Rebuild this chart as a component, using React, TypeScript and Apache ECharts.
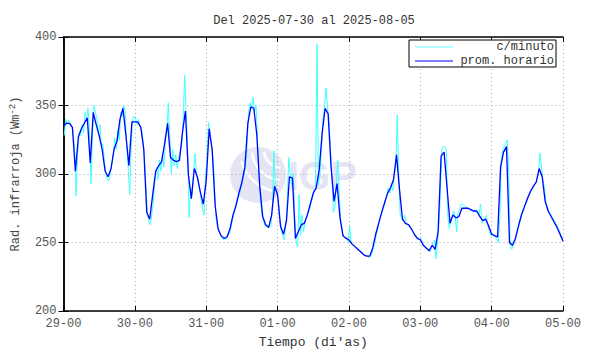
import React, { useEffect, useRef } from "react";
import * as echarts from "echarts";

const TITLE = "Del 2025-07-30 al 2025-08-05";
const DAY_LABELS = ["29-00", "30-00", "31-00", "01-00", "02-00", "03-00", "04-00", "05-00"];
const Y_MIN = 200;
const Y_MAX = 400;
const Y_STEP = 50;

// hourly mean (prom. horario), one value per hour
const hourly29 = [335, 337, 337, 334, 302, 327, 333, 337, 341, 308, 345, 336, 328, 318, 302, 298, 304, 318, 324, 340, 348, 328, 306, 338];
const hourly30 = [338, 338, 334, 318, 272, 267, 285, 302, 306, 309, 322, 337, 312, 310, 309, 310, 330, 346, 300, 282, 304, 298, 287, 278];
const hourly31 = [295, 333, 318, 277, 260, 255, 253, 254, 260, 270, 277, 286, 294, 305, 337, 349, 348, 329, 291, 269, 263, 261, 270, 291];
const hourly01 = [285, 262, 256, 266, 298, 297, 253, 258, 263, 264, 270, 278, 286, 290, 303, 330, 348, 344, 305, 280, 293, 268, 255, 253];
const hourly02 = [252, 249, 247, 245, 243, 241, 240, 240, 246, 256, 264, 272, 279, 286, 290, 296, 314, 289, 267, 264, 263, 260, 256, 253];
const hourly03 = [252, 248, 246, 244, 248, 245, 258, 313, 316, 290, 264, 270, 268, 269, 275, 275, 275, 274, 273, 273, 269, 266, 267, 262];
const hourly04 = [256, 255, 254, 305, 316, 320, 250, 248, 253, 262, 270, 276, 282, 287, 291, 294, 304, 298, 280, 273, 269, 265, 261, 256];
const hourlyEnd = [251];

// per-minute series (c/minuto), sampled every half hour
const minute29 = [328, 340, 336, 339, 338, 335, 330, 318, 284, 315, 330, 328, 336, 330, 345, 340, 348, 330, 293, 328, 350, 345, 340, 328, 336, 320, 322, 310, 300, 296, 295, 300, 308, 314, 326, 318, 332, 325, 345, 342, 350, 346, 320, 305, 285, 318, 340, 342];
const minute30 = [340, 336, 340, 334, 332, 325, 310, 290, 270, 265, 263, 272, 280, 295, 305, 296, 310, 302, 315, 305, 325, 330, 352, 328, 300, 318, 306, 314, 304, 312, 316, 320, 340, 372, 345, 320, 268, 290, 285, 300, 315, 300, 295, 290, 282, 275, 270, 300];
const minute31 = [310, 338, 330, 320, 312, 295, 268, 262, 258, 256, 254, 252, 253, 252, 255, 256, 260, 266, 270, 274, 278, 282, 286, 290, 295, 300, 305, 320, 345, 352, 348, 356, 345, 350, 325, 300, 280, 270, 266, 262, 262, 261, 261, 262, 275, 317, 290, 285];
const minute01 = [280, 265, 258, 255, 252, 262, 280, 312, 300, 292, 300, 270, 250, 247, 285, 255, 270, 258, 265, 268, 272, 274, 279, 282, 288, 289, 395, 292, 300, 318, 340, 348, 363, 350, 340, 320, 300, 272, 275, 292, 310, 285, 265, 258, 254, 253, 254, 250];
const minute02 = [262, 250, 249, 248, 247, 246, 245, 244, 243, 242, 241, 240, 240, 239, 240, 242, 246, 250, 256, 260, 266, 269, 273, 276, 281, 284, 290, 286, 292, 288, 300, 304, 343, 300, 270, 268, 266, 270, 264, 263, 263, 261, 259, 257, 256, 254, 253, 252];
const minute03 = [253, 250, 248, 247, 246, 245, 243, 246, 250, 252, 238, 248, 262, 285, 318, 320, 320, 318, 270, 260, 266, 270, 273, 268, 258, 272, 274, 278, 278, 277, 276, 275, 275, 274, 273, 272, 274, 272, 272, 270, 278, 264, 266, 268, 270, 262, 258, 255];
const minute04 = [257, 255, 255, 252, 250, 268, 310, 318, 320, 322, 325, 300, 248, 245, 248, 250, 255, 258, 263, 266, 271, 273, 277, 279, 283, 285, 288, 289, 292, 293, 296, 300, 315, 305, 296, 290, 280, 276, 273, 271, 269, 267, 265, 263, 261, 259, 256, 253];

const hourly = [...hourly29, ...hourly30, ...hourly31, ...hourly01, ...hourly02, ...hourly03, ...hourly04, ...hourlyEnd];
const minute = [...minute29, ...minute30, ...minute31, ...minute01, ...minute02, ...minute03, ...minute04];

const MONO = "'Liberation Mono', 'DejaVu Sans Mono', monospace";

export default function App() {
  const ref = useRef<HTMLDivElement>(null);

  useEffect(() => {
    if (!ref.current) return;
    const chart = echarts.init(ref.current, undefined, { renderer: "svg" });

    const blueData = hourly.map((v, i) => [i, v]);
    const cyanData = minute.map((v, i) => [0.25 + 0.5 * i, v]);
    const xMax = (DAY_LABELS.length - 1) * 24;

    const axisLine = { show: true, lineStyle: { color: "#000", width: 1.5 } };
    const tick = { show: true, inside: true, length: 5, lineStyle: { color: "#000", width: 1 } };
    const split = { show: true, lineStyle: { color: "#aaa", type: [1, 3] as any, width: 1 } };
    const labelStyle = { fontFamily: MONO, fontSize: 12, color: "#555" };

    chart.setOption({
      animation: false,
      backgroundColor: "#fff",
      title: {
        text: TITLE,
        left: 309,
        textAlign: "center",
        top: 10,
        textStyle: { fontFamily: MONO, fontSize: 12, fontWeight: "normal", color: "#333" },
      },
      grid: { left: 55, right: 27, top: 37, bottom: 40, containLabel: false },
      xAxis: [
        {
          type: "value",
          min: 0,
          max: xMax,
          interval: 24,
          axisLine,
          axisTick: tick,
          splitLine: split,
          axisLabel: {
            ...labelStyle,
            margin: 7,
            showMinLabel: true,
            showMaxLabel: true,
            formatter: (v: number) => DAY_LABELS[Math.round(v / 24)] ?? "",
          },
          name: "Tiempo (di'as)",
          nameLocation: "middle",
          nameGap: 25,
          nameTextStyle: { fontFamily: MONO, fontSize: 13, color: "#333" },
        },
        {
          type: "value",
          position: "top",
          min: 0,
          max: xMax,
          interval: 24,
          axisLine,
          axisTick: tick,
          splitLine: { show: false },
          axisLabel: { show: false },
        },
      ],
      yAxis: [
        {
          type: "value",
          min: Y_MIN,
          max: Y_MAX,
          interval: Y_STEP,
          axisLine,
          axisTick: tick,
          splitLine: split,
          axisLabel: { ...labelStyle, margin: 7 },
          name: "Rad. infrarroja (Wm{sup|-2})",
          nameLocation: "middle",
          nameGap: 38,
          nameRotate: 90,
          nameTextStyle: {
            fontFamily: MONO,
            fontSize: 12,
            color: "#444",
            lineHeight: 16,
            rich: {
              sup: { fontFamily: MONO, fontSize: 9, color: "#444", lineHeight: 9, verticalAlign: "top" },
            },
          },
        },
        {
          type: "value",
          position: "right",
          min: Y_MIN,
          max: Y_MAX,
          interval: Y_STEP,
          axisLine,
          axisTick: tick,
          splitLine: { show: false },
          axisLabel: { show: false },
        },
      ],
      graphic: [
        // watermark
        { type: "circle", z: -10, silent: true, shape: { cx: 258, cy: 175, r: 28 }, style: { fill: "#e4e4f5" } },
        { type: "arc", z: -9, silent: true, shape: { cx: 282, cy: 150, r: 18, startAngle: (95 * Math.PI) / 180, endAngle: (175 * Math.PI) / 180 }, style: { stroke: "#fff", lineWidth: 2.5, fill: "none" } },
        { type: "arc", z: -9, silent: true, shape: { cx: 282, cy: 150, r: 30, startAngle: (95 * Math.PI) / 180, endAngle: (175 * Math.PI) / 180 }, style: { stroke: "#fff", lineWidth: 2.5, fill: "none" } },
        { type: "arc", z: -9, silent: true, shape: { cx: 282, cy: 150, r: 42, startAngle: (102 * Math.PI) / 180, endAngle: (165 * Math.PI) / 180 }, style: { stroke: "#fff", lineWidth: 2.5, fill: "none" } },
        {
          type: "text",
          z: -10,
          silent: true,
          x: 288,
          y: 176,
          style: { text: "IGP", fontFamily: "'Liberation Sans', Arial, sans-serif", fontSize: 40, fontWeight: "bold", fill: "#e4e4f5", verticalAlign: "middle" },
        },
        // legend box
        { type: "rect", z: 100, shape: { x: 409, y: 40, width: 147, height: 27 }, style: { fill: "#fff", stroke: "#000", lineWidth: 1 } },
        { type: "line", z: 101, shape: { x1: 415, y1: 47, x2: 453, y2: 47 }, style: { stroke: "#66ffff", lineWidth: 1 } },
        { type: "line", z: 101, shape: { x1: 415, y1: 61, x2: 453, y2: 61 }, style: { stroke: "#0000ff", lineWidth: 1.2 } },
        { type: "text", z: 101, x: 554, y: 47, style: { text: "c/minuto", fontFamily: MONO, fontSize: 12, fill: "#333", align: "right", verticalAlign: "middle" } },
        { type: "text", z: 101, x: 554, y: 61, style: { text: "prom. horario", fontFamily: MONO, fontSize: 12, fill: "#333", align: "right", verticalAlign: "middle" } },
      ],
      series: [
        {
          name: "c/minuto",
          type: "line",
          data: cyanData,
          showSymbol: false,
          symbol: "none",
          lineStyle: { color: "#40ffff", width: 1 },
          z: 2,
        },
        {
          name: "prom. horario",
          type: "line",
          data: blueData,
          showSymbol: false,
          symbol: "none",
          lineStyle: { color: "#0000ff", width: 1.3 },
          z: 3,
        },
      ],
    });

    return () => chart.dispose();
  }, []);

  return <div ref={ref} style={{ position: "fixed", left: 0, top: 0, width: 590, height: 354 }} />;
}
